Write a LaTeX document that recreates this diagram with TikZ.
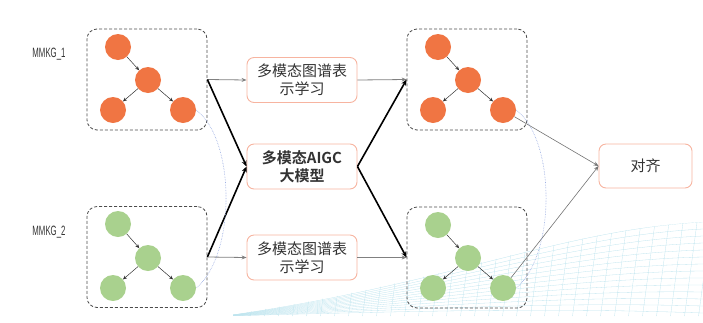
\documentclass[tikz,border=0pt]{standalone}
\usepackage{fontspec}
\setmainfont{Liberation Sans}
\newfontfamily\cjk{Noto Sans CJK SC}[BoldFont={Noto Sans CJK SC Bold}]
\newfontfamily\narrowfont{Liberation Sans}[FakeStretch=0.58]
\usepackage{tikz}
\usetikzlibrary{arrows.meta, positioning}
\definecolor{kgorange}{RGB}{240,117,67}
\definecolor{kggreen}{RGB}{169,209,142}
\definecolor{boxline}{RGB}{247,180,160}
\definecolor{meshcyan}{RGB}{190,228,238}
\definecolor{simblue}{RGB}{150,170,225}

\begin{document}
\begin{tikzpicture}[
  x=1pt, y=-1pt,
  font=\cjk\fontsize{15}{18}\selectfont,
  kgbox/.style={draw=black!70, dash pattern=on 3pt off 2pt, line width=0.8pt,
                rounded corners=10pt, minimum width=120pt, minimum height=101pt},
  ent1/.style={circle, fill=kgorange, minimum size=26pt, inner sep=0pt},
  ent2/.style={circle, fill=kggreen, minimum size=26pt, inner sep=0pt},
  repbox/.style={draw=boxline, line width=0.9pt, rounded corners=7pt, fill=white,
                 minimum width=110pt, minimum height=45pt, align=center,
                 text=black!80, inner sep=2pt},
  kglabel/.style={font=\narrowfont\fontsize{13.5}{15}\selectfont, text=black!80},
  edge/.style={-{Stealth[length=4pt, width=3.5pt]}, line width=0.5pt, black!80},
  thinarrow/.style={-{Stealth[length=5pt, width=4pt]}, line width=0.8pt, black!50},
  bigarrow/.style={-{Stealth[length=6pt, width=5pt]}, line width=1.6pt, black},
  alignarrow/.style={-{Stealth[length=5pt, width=4pt]}, line width=0.6pt, black!55},
  simlink/.style={simblue, densely dotted, line width=0.6pt},
  mesh/.style={meshcyan, line width=0.3pt},
]
\useasboundingbox (0,0) rectangle (703,322);

% background mesh (bottom right)
\begin{scope}
  \clip (233,314) .. controls (450,282) and (560,230) .. (703,222) -- (703,316) -- (233,316) -- cycle;
  \foreach \k in {0,...,13}
    \draw[mesh] (225,316) .. controls (450,284+2*\k) and (560,230+6*\k) .. (703,222+7*\k);
  \foreach \x in {250,264,...,720}
    \draw[mesh] (\x+16,200) -- (\x,320);
\end{scope}

% graph labels
\node[kglabel] (name1) at (49,54)  {MMKG\_1};
\node[kglabel] (name2) at (49,232) {MMKG\_2};

% dashed graph boxes
\node[kgbox] (lk1) at (147,79.5)  {};
\node[kgbox] (lk2) at (147,257)   {};
\node[kgbox] (rk1) at (467,79.5)  {};
\node[kgbox] (rk2) at (467,257.5) {};

% entities, left
\node[ent1] (l1a) at (118,47)  {};
\node[ent1] (l1b) at (148,80)  {};
\node[ent1] (l1c) at (113,110) {};
\node[ent1] (l1d) at (183,110) {};
\node[ent2] (l2a) at (118,224) {};
\node[ent2] (l2b) at (148,258) {};
\node[ent2] (l2c) at (113,288) {};
\node[ent2] (l2d) at (183,288) {};

% entities, right
\node[ent1] (r1a) at (438,47)  {};
\node[ent1] (r1b) at (468,80)  {};
\node[ent1] (r1c) at (433,110) {};
\node[ent1] (r1d) at (503,110) {};
\node[ent2] (r2a) at (438,225) {};
\node[ent2] (r2b) at (468,258) {};
\node[ent2] (r2c) at (433,288) {};
\node[ent2] (r2d) at (503,288) {};

\foreach \g in {l1,l2,r1,r2} {
  \draw[edge] (\g a) -- (\g b);
  \draw[edge] (\g b) -- (\g c);
  \draw[edge] (\g b) -- (\g d);
}

% middle column
\node[repbox] (rep1) at (302,80)    {多模态图谱表\\示学习};
\node[repbox] (aigc) at (302,166.5) {\bfseries 多模态AIGC\\\bfseries 大模型};
\node[repbox] (rep2) at (302,257.5) {多模态图谱表\\示学习};

% alignment
\node[repbox, minimum width=93pt, minimum height=44pt] (align) at (645.5,166) {对齐};

% flows
\draw[thinarrow] (lk1.east) -- (rep1.west);
\draw[thinarrow] (rep1.east) -- (rk1.west);
\draw[thinarrow] (lk2.east) -- (rep2.west);
\draw[thinarrow] (rep2.east) -- (rk2.west);
\draw[bigarrow] (lk1.east) -- (aigc.west);
\draw[bigarrow] (lk2.east) -- (aigc.west);
\draw[bigarrow] (aigc.east) -- (rk1.west);
\draw[bigarrow] (aigc.east) -- (rk2.west);
\draw[alignarrow] (r1d) -- (align.west);
\draw[alignarrow] (r2d) -- (align.west);

% dotted links between graphs
\draw[simlink] (l1d.east) .. controls (236,140) and (236,255) .. (l2d.east);
\draw[simlink] (r1d.east) .. controls (556,140) and (556,255) .. (r2d.east);
\end{tikzpicture}
\end{document}
